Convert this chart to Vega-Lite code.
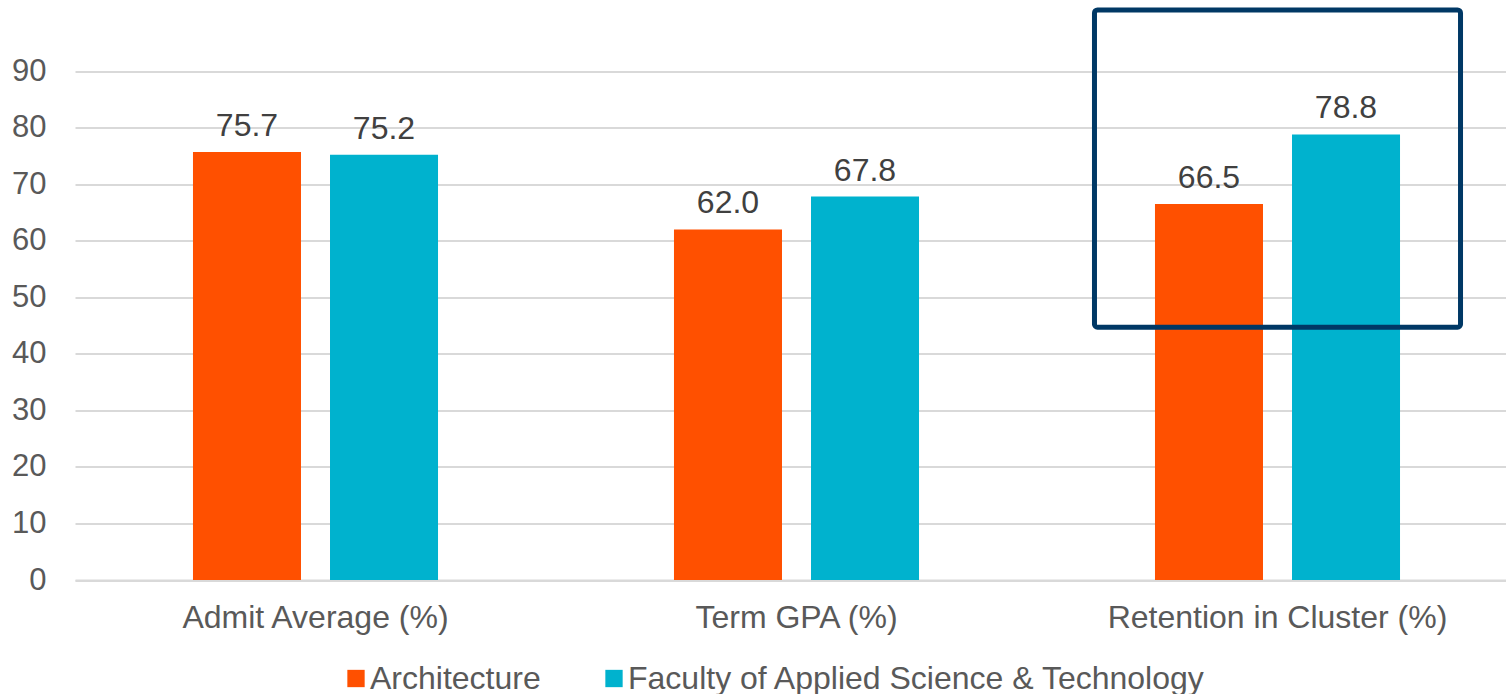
{
  "$schema": "https://vega.github.io/schema/vega-lite/v6.json",
  "width": 1443,
  "height": 565.5,
  "autosize": "none",
  "padding": {"left": 75, "top": 14.5, "right": 0, "bottom": 114},
  "background": "white",
  "config": {
    "view": {"stroke": null},
    "font": "Liberation Sans"
  },
  "datasets": {
    "bars": [
      {"metric": "Admit Average (%)", "group": "Architecture", "value": 75.7},
      {"metric": "Admit Average (%)", "group": "Faculty of Applied Science & Technology", "value": 75.2},
      {"metric": "Term GPA (%)", "group": "Architecture", "value": 62.0},
      {"metric": "Term GPA (%)", "group": "Faculty of Applied Science & Technology", "value": 67.8},
      {"metric": "Retention in Cluster (%)", "group": "Architecture", "value": 66.5},
      {"metric": "Retention in Cluster (%)", "group": "Faculty of Applied Science & Technology", "value": 78.8}
    ],
    "highlight": [
      {"metric": "Retention in Cluster (%)", "low": 44.7, "high": 100.8}
    ]
  },
  "layer": [
    {
      "data": {"name": "bars"},
      "mark": {"type": "bar"},
      "encoding": {
        "x": {
          "field": "metric", "type": "nominal", "sort": null,
          "scale": {"paddingInner": 0, "paddingOuter": 0},
          "axis": {
            "title": null, "labelAngle": 0, "ticks": false, "labelLimit": 1000,
            "domain": true, "domainColor": "#D9D9D9", "domainWidth": 2,
            "labelFont": "Liberation Sans", "labelFontSize": 32, "labelColor": "#595959",
            "labelPadding": 22
          }
        },
        "xOffset": {
          "field": "group", "type": "nominal", "sort": null,
          "scale": {"paddingInner": 0.2117, "paddingOuter": 0.861}
        },
        "y": {
          "field": "value", "type": "quantitative",
          "scale": {"domain": [0, 100], "nice": false},
          "axis": {
            "title": null, "values": [0, 10, 20, 30, 40, 50, 60, 70, 80, 90],
            "ticks": false, "domain": false,
            "grid": true, "gridColor": "#D9D9D9", "gridWidth": 2,
            "labelFont": "Liberation Sans", "labelFontSize": 31, "labelColor": "#595959",
            "labelPadding": 29
          }
        },
        "color": {
          "field": "group", "type": "nominal", "sort": null,
          "scale": {
            "domain": ["Architecture", "Faculty of Applied Science & Technology"],
            "range": ["#FF5000", "#00B2CE"]
          },
          "legend": {
            "title": null, "orient": "none", "direction": "horizontal",
            "legendX": 265, "legendY": 648,
            "symbolType": "square", "symbolSize": 300, "symbolStrokeWidth": 0,
            "labelFont": "Liberation Sans", "labelFontSize": 32, "labelColor": "#595959",
            "labelLimit": 1000, "columnPadding": 57, "labelOffset": -2
          }
        }
      }
    },
    {
      "data": {"name": "bars"},
      "mark": {"type": "text", "baseline": "alphabetic", "dy": -16, "font": "Liberation Sans", "fontSize": 32, "color": "#404040"},
      "encoding": {
        "x": {"field": "metric", "type": "nominal", "sort": null},
        "xOffset": {"field": "group", "type": "nominal", "sort": null},
        "y": {"field": "value", "type": "quantitative"},
        "text": {"field": "value", "type": "quantitative", "format": ".1f"}
      }
    },
    {
      "data": {"name": "highlight"},
      "mark": {"type": "bar", "filled": false, "stroke": "#003865", "strokeWidth": 5, "cornerRadius": 3, "width": {"band": 0.761}, "clip": false},
      "encoding": {
        "x": {"field": "metric", "type": "nominal", "sort": null},
        "y": {"field": "low", "type": "quantitative"},
        "y2": {"field": "high"}
      }
    }
  ]
}
